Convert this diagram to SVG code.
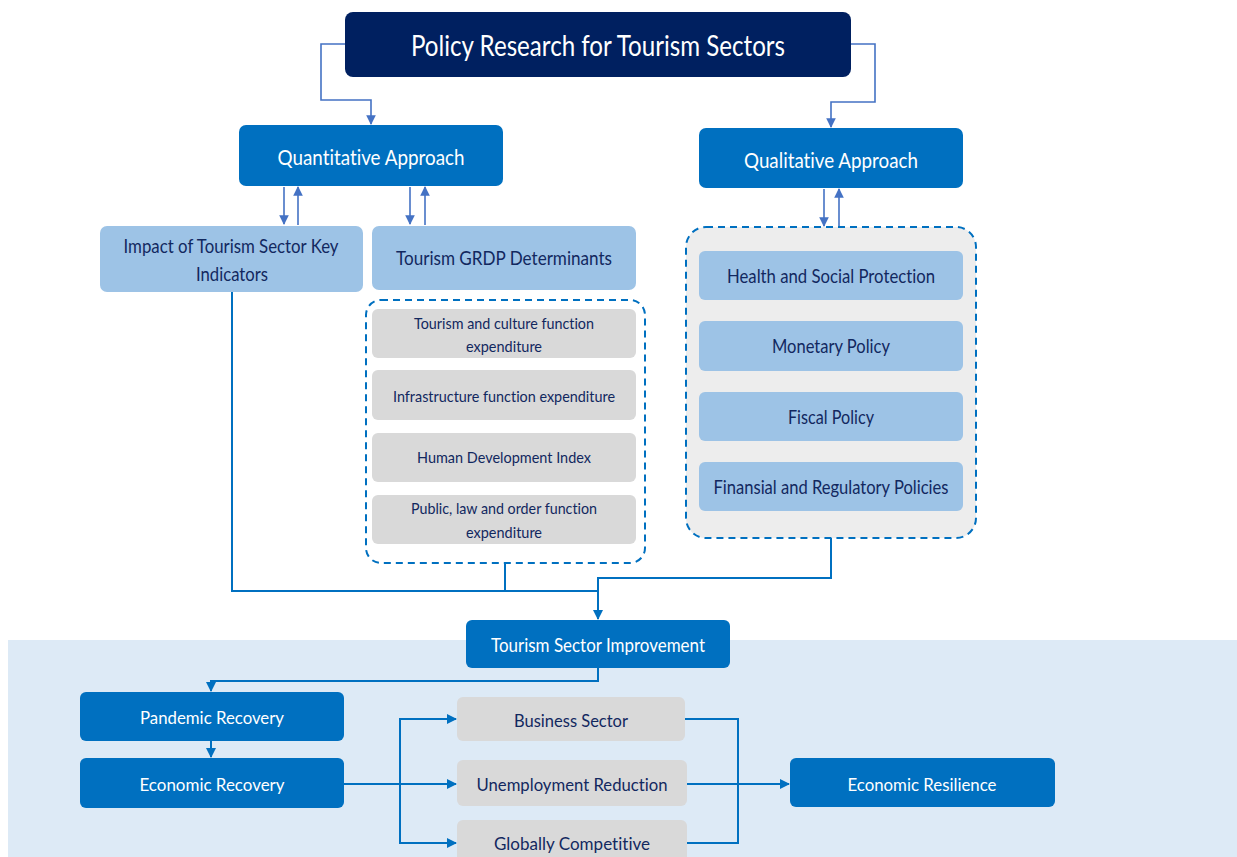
<svg xmlns="http://www.w3.org/2000/svg" width="1237" height="857" viewBox="0 0 1237 857">
  <style>
    text { font-family: Lato, "Open Sans", "Liberation Sans", sans-serif; text-anchor: middle; font-variant-ligatures: none; }
    .dark { fill: #002060; }
    .blue { fill: #0070C0; }
    .light { fill: #9DC3E6; }
    .grey { fill: #D9D9D9; }
    .wt { fill: #FFFFFF; }
    .nt { fill: #12285F; }
    .dash { fill: none; stroke: #0070C0; stroke-width: 2; stroke-dasharray: 7 5; }
    .thin { fill: none; stroke: #4472C4; stroke-width: 1.6; }
    .flow { fill: none; stroke: #0070C0; stroke-width: 2; }
  </style>
  <defs>
    <marker id="ah" viewBox="0 0 10 10" refX="9" refY="5" markerWidth="6" markerHeight="6" orient="auto">
      <path d="M0,0 L10,5 L0,10 Z" fill="#4472C4"/>
    </marker>
    <marker id="ahb" viewBox="0 0 10 10" refX="9" refY="5" markerWidth="5" markerHeight="5" orient="auto">
      <path d="M0,0 L10,5 L0,10 Z" fill="#0070C0"/>
    </marker>
  </defs>

  <rect width="1237" height="857" fill="#FFFFFF"/>
  <!-- outcome band -->
  <rect x="8" y="640" width="1229" height="217" fill="#DDEAF6"/>

  <!-- connectors -->
  <g id="connectors">
    <path class="thin" d="M345,44 H321 V100 H371 V124" marker-end="url(#ah)"/>
    <path class="thin" d="M851,44 H875 V102 H831 V127" marker-end="url(#ah)"/>
    <path class="thin" d="M284,187 V224" marker-end="url(#ah)"/>
    <path class="thin" d="M298,225 V187" marker-end="url(#ah)"/>
    <path class="thin" d="M410,187 V224" marker-end="url(#ah)"/>
    <path class="thin" d="M425,225 V187" marker-end="url(#ah)"/>
    <path class="thin" d="M824,189 V226" marker-end="url(#ah)"/>
    <path class="thin" d="M839,227 V189" marker-end="url(#ah)"/>

    <path class="flow" d="M232,292 V591 H598"/>
    <path class="flow" d="M505,563 V591"/>
    <path class="flow" d="M831,538 V578 H598 V619" marker-end="url(#ahb)"/>

    <path class="flow" d="M598,668 V681 H211 V691" marker-end="url(#ahb)"/>
    <path class="flow" d="M211,741 V757" marker-end="url(#ahb)"/>
    <path class="flow" d="M344,784 H456" marker-end="url(#ahb)"/>
    <path class="flow" d="M456,719 H400 V843 H456" marker-end="url(#ahb)"/>
    <path class="flow" d="M400,719 H456" marker-end="url(#ahb)"/>
    <path class="flow" d="M685,719 H738 V843 H687"/>
    <path class="flow" d="M687,784 H789" marker-end="url(#ahb)"/>
  </g>

  <g id="title">
    <rect class="dark" x="345" y="12" width="506" height="65" rx="8"/>
    <text class="wt" x="598" y="56" font-size="28" textLength="374" lengthAdjust="spacingAndGlyphs">Policy Research for Tourism Sectors</text>
  </g>

  <g id="quantitative">
    <rect class="blue" x="239" y="125" width="264" height="61" rx="7"/>
    <text class="wt" x="371" y="165" font-size="22" textLength="187" lengthAdjust="spacingAndGlyphs">Quantitative Approach</text>
  </g>

  <g id="qualitative">
    <rect class="blue" x="699" y="128" width="264" height="60" rx="7"/>
    <text class="wt" x="831" y="168" font-size="22" textLength="174" lengthAdjust="spacingAndGlyphs">Qualitative Approach</text>
  </g>

  <g id="impact">
    <rect class="light" x="100" y="226" width="263" height="66" rx="7"/>
    <text class="nt" x="231" y="253" font-size="19" textLength="215" lengthAdjust="spacingAndGlyphs">Impact of Tourism Sector Key</text>
    <text class="nt" x="232" y="281" font-size="19" textLength="72" lengthAdjust="spacingAndGlyphs">Indicators</text>
  </g>

  <g id="grdp">
    <rect class="light" x="372" y="226" width="264" height="64" rx="7"/>
    <text class="nt" x="504" y="265" font-size="19" textLength="216" lengthAdjust="spacingAndGlyphs">Tourism GRDP Determinants</text>
  </g>

  <g id="grdp-factors">
    <rect class="dash" x="366" y="300" width="279" height="263" rx="15"/>
    <rect class="grey" x="372" y="309" width="264" height="49" rx="6"/>
    <text class="nt" x="504" y="329" font-size="16" textLength="180" lengthAdjust="spacingAndGlyphs">Tourism and culture function</text>
    <text class="nt" x="504" y="352" font-size="16" textLength="76" lengthAdjust="spacingAndGlyphs">expenditure</text>
    <rect class="grey" x="372" y="370" width="264" height="50" rx="6"/>
    <text class="nt" x="504" y="402" font-size="16" textLength="222" lengthAdjust="spacingAndGlyphs">Infrastructure function expenditure</text>
    <rect class="grey" x="372" y="433" width="264" height="49" rx="6"/>
    <text class="nt" x="504" y="463" font-size="16" textLength="174" lengthAdjust="spacingAndGlyphs">Human Development Index</text>
    <rect class="grey" x="372" y="495" width="264" height="49" rx="6"/>
    <text class="nt" x="504" y="514" font-size="16" textLength="186" lengthAdjust="spacingAndGlyphs">Public, law and order function</text>
    <text class="nt" x="504" y="538" font-size="16" textLength="76" lengthAdjust="spacingAndGlyphs">expenditure</text>
  </g>

  <g id="policies">
    <rect x="686" y="227" width="290" height="311" rx="20" fill="#EDEDED" stroke="#0070C0" stroke-width="2" stroke-dasharray="7 5"/>
    <rect class="light" x="699" y="251" width="264" height="49" rx="6"/>
    <text class="nt" x="831" y="283" font-size="19" textLength="208" lengthAdjust="spacingAndGlyphs">Health and Social Protection</text>
    <rect class="light" x="699" y="321" width="264" height="50" rx="6"/>
    <text class="nt" x="831" y="353" font-size="19" textLength="118" lengthAdjust="spacingAndGlyphs">Monetary Policy</text>
    <rect class="light" x="699" y="392" width="264" height="49" rx="6"/>
    <text class="nt" x="831" y="424" font-size="19" textLength="86" lengthAdjust="spacingAndGlyphs">Fiscal Policy</text>
    <rect class="light" x="699" y="462" width="264" height="49" rx="6"/>
    <text class="nt" x="831" y="494" font-size="19" textLength="235" lengthAdjust="spacingAndGlyphs">Finansial and Regulatory Policies</text>
  </g>

  <g id="improvement">
    <rect class="blue" x="466" y="620" width="264" height="48" rx="6"/>
    <text class="wt" x="598" y="652" font-size="19" textLength="214" lengthAdjust="spacingAndGlyphs">Tourism Sector Improvement</text>
  </g>

  <g id="pandemic">
    <rect class="blue" x="80" y="692" width="264" height="49" rx="6"/>
    <text class="wt" x="212" y="724" font-size="18" textLength="144" lengthAdjust="spacingAndGlyphs">Pandemic Recovery</text>
  </g>

  <g id="economic-recovery">
    <rect class="blue" x="80" y="758" width="264" height="50" rx="6"/>
    <text class="wt" x="212" y="791" font-size="18" textLength="145" lengthAdjust="spacingAndGlyphs">Economic Recovery</text>
  </g>

  <g id="business">
    <rect class="grey" x="457" y="697" width="228" height="44" rx="6"/>
    <text class="nt" x="571" y="727" font-size="18" textLength="114" lengthAdjust="spacingAndGlyphs">Business Sector</text>
  </g>

  <g id="unemployment">
    <rect class="grey" x="457" y="760" width="230" height="46" rx="6"/>
    <text class="nt" x="572" y="791" font-size="18" textLength="191" lengthAdjust="spacingAndGlyphs">Unemployment Reduction</text>
  </g>

  <g id="competitive">
    <rect class="grey" x="457" y="820" width="230" height="50" rx="6"/>
    <text class="nt" x="572" y="850" font-size="18" textLength="156" lengthAdjust="spacingAndGlyphs">Globally Competitive</text>
  </g>

  <g id="resilience">
    <rect class="blue" x="790" y="758" width="265" height="49" rx="6"/>
    <text class="wt" x="922" y="791" font-size="18" textLength="149" lengthAdjust="spacingAndGlyphs">Economic Resilience</text>
  </g>
</svg>
